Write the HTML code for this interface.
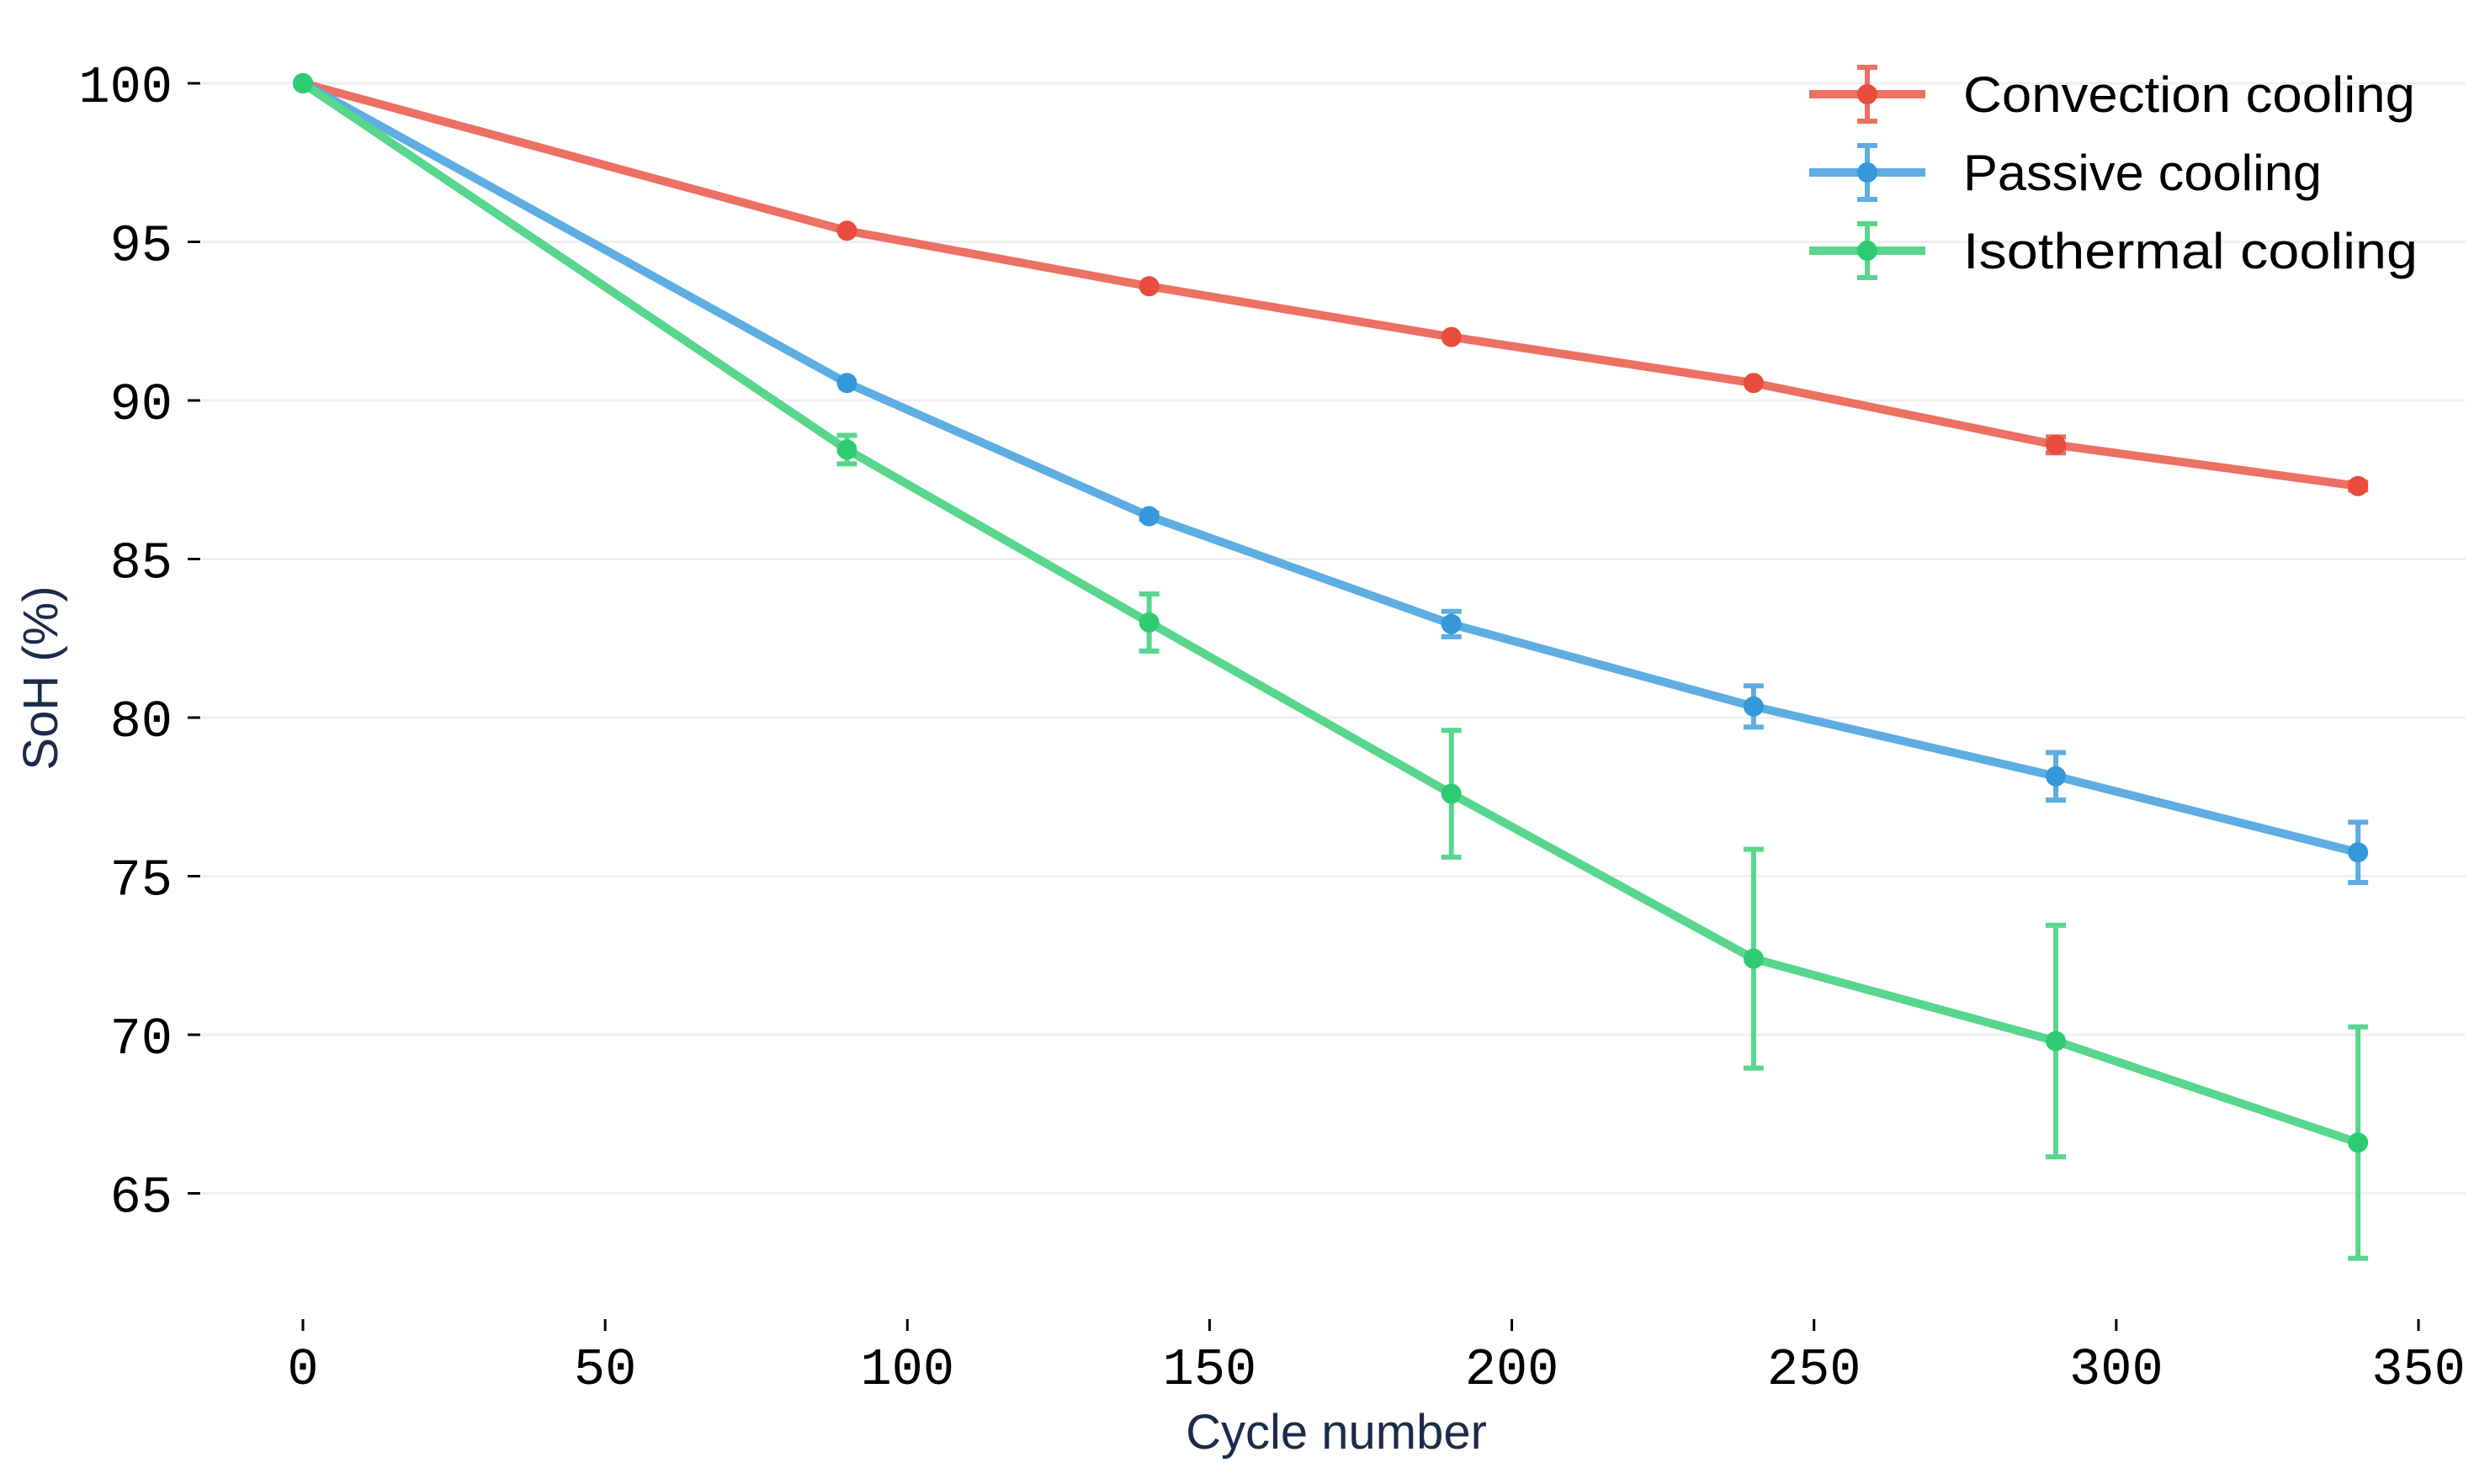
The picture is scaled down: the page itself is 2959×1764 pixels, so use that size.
<!DOCTYPE html>
<html><head><meta charset="utf-8"><style>
html,body{margin:0;padding:0;background:#fff;}
svg{display:block;}
text{font-family:"Liberation Sans",sans-serif;}
.tick{font-family:"Liberation Mono",monospace;font-size:62px;fill:#000;}
</style></head><body>
<svg id="chart" width="2959" height="1764" viewBox="0 0 2959 1764" xmlns="http://www.w3.org/2000/svg">
<g id="grid"></g>
<g id="axes"></g>
<g id="series"></g>
<text x="1588" y="1722" text-anchor="middle" font-size="58" fill="#1c2b4a">Cycle number</text>
<text x="0" y="0" transform="translate(68,806) rotate(-90)" text-anchor="middle" font-size="58" fill="#1c2b4a">SoH (%)</text>
<g id="legend"></g>
</svg>
<script>
const cycles = [0, 90, 140, 190, 240, 290, 340];
const convection = [100, 95.35, 93.6, 92.0, 90.55, 88.6, 87.3];
const convectionErr = [0, 0.05, 0.05, 0.05, 0.05, 0.25, 0.12];
const passive = [100, 90.55, 86.35, 82.95, 80.35, 78.15, 75.75];
const passiveErr = [0, 0.05, 0.1, 0.4, 0.65, 0.75, 0.95];
const isothermal = [100, 88.45, 83.0, 77.6, 72.4, 69.8, 66.6];
const isothermalErr = [0, 0.45, 0.9, 2.0, 3.45, 3.65, 3.65];
const xTicks = [0, 50, 100, 150, 200, 250, 300, 350];
const yTicks = [65, 70, 75, 80, 85, 90, 95, 100];
const seriesNames = ["Convection cooling", "Passive cooling", "Isothermal cooling"];

const NS = "http://www.w3.org/2000/svg";
function xs(v){ return 360 + v * (2874 - 360) / 350; }
function ys(v){ return 99 + (100 - v) * 37.7; }
function mk(tag, attrs, parent){
  const e = document.createElementNS(NS, tag);
  for (const k in attrs) e.setAttribute(k, attrs[k]);
  parent.appendChild(e);
  return e;
}
const grid = document.getElementById('grid');
const axes = document.getElementById('axes');
yTicks.forEach(t => {
  const g = mk('line', {x1:240, x2:2930, y1:ys(t), y2:ys(t), stroke:'#eff0f3', 'stroke-width':3}, grid);
  
  
  const tk = mk('line', {x1:223, x2:238, y1:ys(t), y2:ys(t), stroke:'#000', 'stroke-width':3}, axes);
  
  
  const tx = mk('text', {x:205, y:ys(t)+22, 'text-anchor':'end', class:'tick'}, axes);
  tx.textContent = t;
  
  
});
xTicks.forEach(t => {
  const tk = mk('line', {x1:xs(t), x2:xs(t), y1:1568, y2:1582, stroke:'#000', 'stroke-width':3}, axes);
  
  
  const tx = mk('text', {x:xs(t), y:1645, 'text-anchor':'middle', class:'tick'}, axes);
  tx.textContent = t;
  
  
});

const sdefs = [
  {vals: convection, err: convectionErr, line:'#ec7063', dot:'#e74c3c', name:'convection'},
  {vals: passive, err: passiveErr, line:'#5dade2', dot:'#3498db', name:'passive'},
  {vals: isothermal, err: isothermalErr, line:'#58d68d', dot:'#2ecc71', name:'isothermal'}
];
const sg = document.getElementById('series');
sdefs.forEach(s => {
  const g = mk('g', {}, sg);
  
  
  const pts = cycles.map((c,i) => xs(c) + ',' + ys(s.vals[i])).join(' ');
  const pl = mk('polyline', {points:pts, fill:'none', stroke:s.line, 'stroke-width':10, 'stroke-linejoin':'round'}, g);
  
  
  cycles.forEach((c,i) => {
    if (s.err[i] > 0.08) {
      const x = xs(c), y1 = ys(s.vals[i] + s.err[i]), y2 = ys(s.vals[i] - s.err[i]);
      const eb = mk('path', {d:`M${x},${y1}V${y2}M${x-12},${y1}H${x+12}M${x-12},${y2}H${x+12}`, stroke:s.line, 'stroke-width':6, fill:'none'}, g);
      
      
    }
    const d = mk('circle', {cx:xs(c), cy:ys(s.vals[i]), r:12, fill:s.dot}, g);
    
    
  });
});

const lg = document.getElementById('legend');
const lw = [537, 426, 540];
sdefs.forEach((s, i) => {
  const y = 112 + i * 93;
  const g = mk('g', {}, lg);
  
  
  mk('line', {x1:2150, x2:2288, y1:y, y2:y, stroke:s.line, 'stroke-width':10}, g);
  mk('path', {d:`M2219,${y-32}V${y+32}M2207,${y-32}H2231M2207,${y+32}H2231`, stroke:s.line, 'stroke-width':6, fill:'none'}, g);
  mk('circle', {cx:2219, cy:y, r:12, fill:s.dot}, g);
  const t = mk('text', {x:2333, y:y+21, 'font-size':60, fill:'#000', textLength:lw[i], lengthAdjust:'spacingAndGlyphs'}, g);
  t.textContent = seriesNames[i];
  
  
});
</script>
</body></html>
